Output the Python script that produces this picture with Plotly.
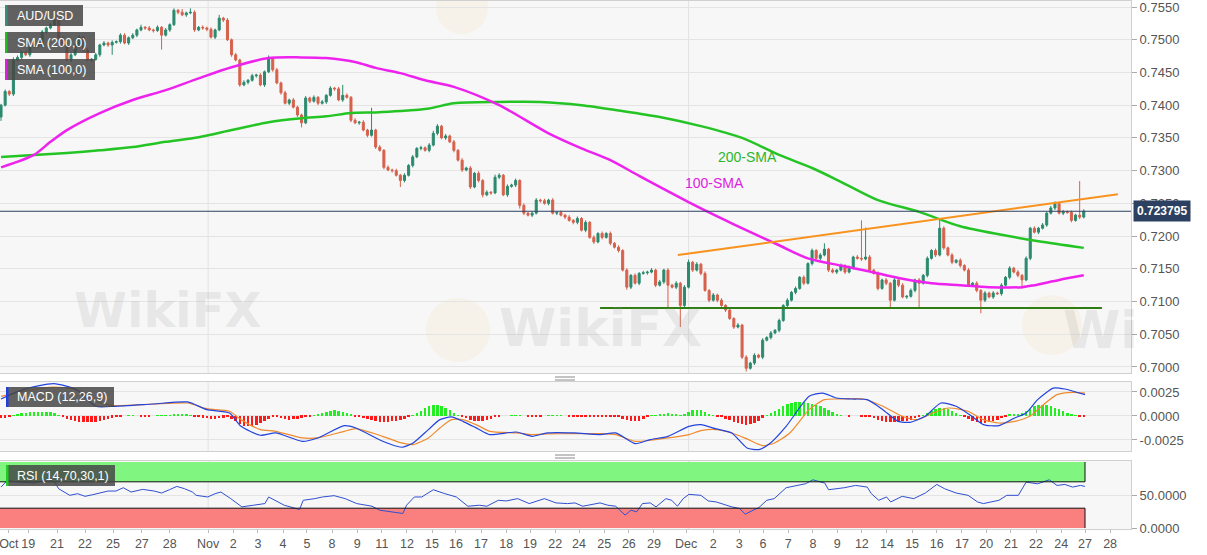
import plotly.graph_objects as go

W, H = 1207, 555
PLOT_W = 1131          # width of the plotting area, right axis sits after it

# ---------------- price data (4h candles) ----------------
first_open = 0.7382
closes = [
    0.7400, 0.7421, 0.7417, 0.7469, 0.7473, 0.7481, 0.7477, 0.7489, 0.7492, 0.7490,
    0.7512, 0.7518, 0.7523, 0.7530, 0.7503, 0.7492, 0.7469, 0.7477, 0.7492, 0.7504,
    0.7484, 0.7469, 0.7470, 0.7477, 0.7492, 0.7495, 0.7492, 0.7496, 0.7497, 0.7507,
    0.7495, 0.7503, 0.7507, 0.7515, 0.7519, 0.7518, 0.7515, 0.7514, 0.7519, 0.7507,
    0.7515, 0.7523, 0.7545, 0.7542, 0.7538, 0.7541, 0.7542, 0.7515, 0.7519, 0.7518,
    0.7516, 0.7504, 0.7515, 0.7533, 0.7530, 0.7500, 0.7477, 0.7469, 0.7431, 0.7435,
    0.7438, 0.7445, 0.7446, 0.7431, 0.7451, 0.7472, 0.7454, 0.7434, 0.7419, 0.7403,
    0.7408, 0.7397, 0.7385, 0.7373, 0.7411, 0.7406, 0.7412, 0.7403, 0.7405, 0.7415,
    0.7426, 0.7425, 0.7408, 0.7415, 0.7412, 0.7377, 0.7373, 0.7374, 0.7362, 0.7354,
    0.7362, 0.7336, 0.7331, 0.7305, 0.7301, 0.7300, 0.7293, 0.7285, 0.7293, 0.7308,
    0.7321, 0.7334, 0.7335, 0.7331, 0.7339, 0.7357, 0.7368, 0.7350, 0.7353, 0.7344,
    0.7331, 0.7316, 0.7301, 0.7304, 0.7275, 0.7296, 0.7285, 0.7263, 0.7267, 0.7266,
    0.7290, 0.7293, 0.7263, 0.7276, 0.7278, 0.7285, 0.7247, 0.7235, 0.7232, 0.7235,
    0.7255, 0.7254, 0.7250, 0.7255, 0.7235, 0.7236, 0.7232, 0.7229, 0.7224, 0.7221,
    0.7227, 0.7209, 0.7221, 0.7198, 0.7191, 0.7204, 0.7198, 0.7204, 0.7189, 0.7183,
    0.7178, 0.7148, 0.7122, 0.7140, 0.7128, 0.7143, 0.7144, 0.7145, 0.7148, 0.7125,
    0.7130, 0.7148, 0.7125, 0.7122, 0.7128, 0.7094, 0.7122, 0.7160, 0.7148, 0.7157,
    0.7143, 0.7117, 0.7102, 0.7110, 0.7102, 0.7094, 0.7087, 0.7074, 0.7061, 0.7064,
    0.7015, 0.6998, 0.7006, 0.7018, 0.7015, 0.7041, 0.7045, 0.7052, 0.7056, 0.7071,
    0.7094, 0.7102, 0.7114, 0.7120, 0.7137, 0.7128, 0.7158, 0.7178, 0.7166, 0.7171,
    0.7180, 0.7148, 0.7145, 0.7148, 0.7155, 0.7145, 0.7152, 0.7168, 0.7166, 0.7165,
    0.7168, 0.7148, 0.7143, 0.7120, 0.7133, 0.7128, 0.7102, 0.7133, 0.7125, 0.7107,
    0.7108, 0.7117, 0.7133, 0.7128, 0.7140, 0.7166, 0.7178, 0.7171, 0.7212, 0.7182,
    0.7171, 0.7160, 0.7163, 0.7155, 0.7148, 0.7125, 0.7128, 0.7117, 0.7102, 0.7113,
    0.7107, 0.7113, 0.7112, 0.7125, 0.7137, 0.7151, 0.7145, 0.7140, 0.7133, 0.7166,
    0.7212, 0.7206, 0.7212, 0.7217, 0.7235, 0.7243, 0.7250, 0.7235, 0.7237, 0.7236,
    0.7224, 0.7232, 0.7229, 0.723795,
]
# wick lengths above / below the body, in pips
up_pips = [
    2, 3, 2, 4, 3, 2, 3, 2, 3, 2,   3, 2, 3, 8, 3, 2, 3, 4, 2, 3,
    2, 3, 2, 3, 2, 3, 2, 3, 2, 3,   3, 2, 3, 2, 4, 2, 3, 2, 3, 2,
    3, 2, 3, 2, 5, 2, 6, 3, 2, 3,   2, 3, 2, 5, 2, 3, 2, 3, 2, 3,
    2, 3, 2, 3, 2, 4, 2, 3, 2, 3,   2, 3, 2, 2, 3, 2, 3, 2, 3, 2,
    3, 2, 3, 16, 3, 2, 3, 2, 3, 2,  34, 2, 3, 2, 3, 2, 3, 2, 3, 2,
    3, 2, 3, 2, 3, 4, 3, 2, 3, 2,   3, 2, 3, 2, 3, 2, 3, 2, 3, 2,
    4, 3, 2, 3, 2, 3, 2, 3, 2, 3,   3, 2, 3, 2, 3, 2, 3, 2, 3, 2,
    3, 2, 3, 2, 3, 2, 3, 2, 3, 2,   3, 2, 3, 2, 3, 2, 3, 2, 3, 2,
    3, 2, 3, 2, 3, 2, 3, 4, 2, 3,   2, 3, 2, 3, 2, 3, 2, 3, 2, 3,
    2, 3, 2, 3, 2, 3, 2, 3, 2, 3,   2, 3, 2, 3, 2, 3, 2, 3, 2, 3,
    9, 2, 3, 2, 3, 2, 3, 2, 3, 58,  45, 3, 2, 3, 2, 3, 2, 3, 2, 3,
    2, 3, 2, 3, 2, 3, 2, 3, 15, 3,  2, 3, 2, 3, 2, 3, 2, 3, 2, 3,
    2, 3, 2, 3, 2, 3, 2, 3, 2, 3,   2, 3, 2, 3, 2, 3, 3, 2, 3, 2,
    3, 2, 52, 3,
]
down_pips = [
    6, 2, 3, 3, 2, 3, 2, 3, 2, 3,   2, 3, 2, 2, 4, 3, 2, 3, 2, 3,
    3, 2, 3, 2, 3, 2, 3, 15, 2, 3,  2, 3, 2, 3, 2, 3, 2, 3, 2, 22,
    2, 3, 2, 3, 2, 3, 2, 3, 2, 3,   3, 2, 3, 2, 3, 2, 3, 2, 3, 2,
    3, 2, 3, 2, 3, 2, 3, 2, 3, 2,   3, 2, 3, 7, 2, 3, 2, 3, 2, 3,
    2, 3, 2, 3, 2, 3, 2, 3, 2, 3,   2, 3, 2, 3, 2, 3, 2, 10, 3, 2,
    3, 2, 3, 2, 3, 2, 3, 2, 3, 2,   3, 2, 3, 2, 3, 2, 3, 4, 2, 3,
    2, 3, 2, 3, 2, 3, 5, 3, 2, 3,   2, 3, 2, 3, 2, 3, 2, 3, 2, 3,
    3, 2, 3, 2, 3, 2, 3, 2, 3, 2,   3, 2, 4, 3, 2, 3, 2, 3, 2, 3,
    2, 3, 34, 2, 3, 33, 3, 2, 3, 2, 3, 2, 3, 2, 3, 2, 3, 2, 3, 2,
    3, 5, 2, 3, 2, 3, 2, 3, 2, 3,   2, 3, 2, 3, 2, 3, 2, 3, 2, 3,
    2, 3, 2, 3, 2, 3, 2, 3, 2, 3,   2, 3, 2, 3, 2, 3, 11, 2, 3, 2,
    3, 2, 3, 37, 2, 3, 2, 3, 2, 3,  2, 3, 2, 3, 2, 3, 2, 3, 20, 3,
    2, 3, 2, 3, 2, 3, 2, 3, 13, 2,  3, 2, 3, 2, 3, 2, 3, 2, 3, 2,
    3, 2, 3, 2,
]
last_price = 0.723795

# moving averages, sampled along the candle index
sma200_x = [0, 8, 16, 24, 32, 40, 48, 56, 65, 73, 79, 85, 91, 97, 104, 110, 121, 131,
            141, 150, 160, 170, 180, 189, 197, 204, 213, 223, 233, 243, 252, 263]
sma200 = [0.7321, 0.7324, 0.7327, 0.7331, 0.7336, 0.7344, 0.7351, 0.7362, 0.7374, 0.7380,
          0.7383, 0.7388, 0.7389, 0.7391, 0.7395, 0.7403, 0.7405, 0.7405, 0.7400, 0.7392,
          0.7382, 0.7368, 0.7350, 0.7324, 0.7304, 0.7283, 0.7255, 0.7237, 0.7215, 0.7202,
          0.7192, 0.7182]
sma100_x = [0, 8, 12, 16, 24, 32, 40, 48, 56, 65, 73, 79, 86, 91, 97, 103, 110, 121, 133,
            141, 148, 155, 167, 175, 181, 189, 196, 204, 211, 218, 226, 233, 240, 248, 251,
            257, 263]
sma100 = [0.7305, 0.7324, 0.7344, 0.7362, 0.7388, 0.7408, 0.7423, 0.7441, 0.7458, 0.7472,
          0.7473, 0.7472, 0.7466, 0.7457, 0.7449, 0.7438, 0.7428, 0.7400, 0.7357, 0.7334,
          0.7316, 0.7292, 0.7252, 0.7227, 0.7209, 0.7186, 0.7166, 0.7155, 0.7146, 0.7136,
          0.7128, 0.7125, 0.7122, 0.7122, 0.7125, 0.7133, 0.7140]

# drawn lines
resist_x = [164.4, 271.3]
resist_y = [0.7171, 0.7264]
support_x = [145.5, 267.4]
support_y = [0.7090, 0.7090]

# ---------------- MACD (12,26,9), values in 1e-4 ----------------
macd_x = [0, 5.3, 12.8, 18.3, 23, 27.6, 37, 45.3, 50, 55.5, 58.3, 63, 66.7, 73.2, 76.9,
          83.4, 86.2, 92.7, 97.3, 100.1, 103.8, 106.6, 109.4, 112.2, 115.9, 118.7, 125.2,
          129, 132.7, 139.2, 145.5, 149.3, 154, 157.7, 162, 167.1, 170, 173.7, 177.5,
          181.2, 184.1, 186.9, 190.7, 196.3, 199.6, 202.9, 206.6, 210.4, 214.2, 217.9,
          220.8, 224.5, 228.3, 232, 235.8, 238.6, 242.4, 246.2, 249, 251.8, 255.6, 258.4,
          263.3]
macd_line = [17.7, 27.4, 33.7, 27.4, 10.1, 10.1, 12.5, 14.6, 6.6, 3.1, -10.8, -20.1, -17.7,
             -26.4, -22.9, -10.1, -12.5, -26.4, -32.6, -28.1, -14.2, -3.8, -1.0, -5.6, -13.5,
             -19.4, -16.7, -21.2, -17.7, -17.7, -19.4, -17.7, -28.8, -24.6, -21.2, -10.8,
             -9.0, -13.5, -17.7, -33.3, -35.0, -28.1, -10.8, 20.5, 23.9, 18.7, 17.7, 17.0,
             6.6, -5.6, -6.6, -0.3, 13.5, 10.1, -0.3, -9.0, -10.1, -2.1, 3.1, 17.0, 29.1,
             28.1, 22.2]
signal_x = [0, 5.3, 12.8, 18.3, 23, 27.6, 37, 45.3, 50, 55.5, 58.3, 63, 66.7, 73.2, 76.9,
            83.4, 86.2, 92.7, 97.3, 100.1, 103.8, 106.6, 109.4, 112.2, 115.9, 118.7, 125.2,
            129, 132.7, 139.2, 145.5, 149.3, 154, 157.7, 162, 167.1, 170, 173.7, 177.5,
            181.2, 185, 187.9, 191.6, 196.3, 200, 203.8, 209.5, 214.2, 218.9, 222.6, 226.4,
            230.2, 234.9, 238.6, 242.4, 246.2, 249.9, 253.7, 256.5, 260.3, 263.3]
signal_line = [20.5, 25.7, 30.2, 27.4, 15.3, 10.8, 12.5, 13.5, 7.6, 4.9, -3.8, -14.2, -16.0,
               -22.9, -22.9, -16.0, -13.2, -21.2, -28.1, -29.8, -22.9, -12.5, -3.8, -3.8,
               -10.1, -16.0, -17.7, -19.4, -18.7, -18.4, -18.4, -19.4, -26.4, -25.3, -22.9,
               -19.4, -15.3, -14.2, -17.7, -23.9, -30.9, -28.1, -17.7, 6.6, 17.0, 17.7, 17.7,
               10.1, -0.3, -3.8, 3.1, 8.3, 4.9, -3.8, -7.3, -5.6, -0.3, 13.5, 22.2, 24.6, 23.9]
macd_hist = [
    -2, -2, -1,
    1, 2, 3, 3.5, 4, 4, 4.5, 4.5, 4.5, 4, 3, 1,
    -1, -3, -4, -5, -6, -6.5, -6.6, -6.5, -6, -5, -4, -3, -2, -1,
    -0.5, 0, 0.5, 0.5, 0, -0.5, -0.5, -0.3, 0, 0.3, 0.5,
    0.5,
    1, 1.5, 2, 2.4, 2, 1,
    -0.5, -1, -2, -2.5, -3, -3, -2.5, -2, -1.5,
    -3, -5, -8, -10, -10.8, -10, -9, -7, -5, -3,
    -1.5,
    -1.5, -2.5, -3.5, -3.8, -3.5, -3, -2, -1,
    -0.3,
    0.5, 1.5, 3, 4.5, 5.5, 5.9, 5.5, 4.5, 3, 1.5,
    -0.5, -1.5, -2.5, -3.5, -4.5, -5.2, -5.8, -6.2, -6, -5.5, -4.8, -4, -3, -1.5,
    1, 3, 5.5, 8, 10, 11, 11, 10, 8, 6, 3.5, 1,
    -1, -2.5, -4, -5, -5.6, -5.5, -4.5, -3, -1.5,
    -0.5, 0, 0,
    0.3, 0.4, 0.4, 0, -0.5, -0.8, -0.8, -0.5, 0, 0.3,
    0.3, 0.4, 0.3, 0, -0.2, -0.3, -0.3, -0.3, -0.3, -0.3, -0.3, -0.3,
    -0.3, -0.3, -0.5, -0.8,
    -1, -3, -4.5, -5.5, -5.6, -5, -3.5, -1.5,
    0.5, 1, 1.5, 2, 3, 2.5, 1.5,
    1, 2.5, 4.5, 6, 6.6, 6, 4.5, 2.5, 1,
    -0.5, -1.5, -3, -4.5, -6, -7.5, -8.5, -9, -8.5, -7, -5, -2,
    1, 3, 5, 7.5, 10, 12, 13.5, 14.5, 14.6, 14.5, 14, 13, 11.5, 10, 8, 6, 4, 2, 0.5,
    0, -0.3, 0, 0, -0.3, -0.5,
    -1, -2.5, -4, -5.5, -6.2, -6.6, -6.4, -6, -5.5, -5, -4, -2.5, -1,
    1, 3, 5.5, 7.5, 8.3, 8, 7, 5, 3, 1,
    -1, -3, -5, -6.5, -7.3, -7, -6.5, -5.5, -4, -2.5, -1,
    1.5, 2, 2.5, 3.5, 5, 7.5, 10, 11.5, 11.5, 11, 10, 8.5, 7, 5, 3, 1.5, 0.5,
    -1.5, -1.5,
]

# ---------------- RSI (14) ----------------
rsi_x = [0, 1.5, 4, 8, 11.5, 13, 14, 16.7, 18.6, 20.4, 22.3, 24.2, 26, 27.9, 29.7, 31.6,
         34.4, 37.2, 39, 40.9, 42.7, 44.6, 46.5, 47.4, 50.2, 52, 53.4, 55.8, 58.5, 61.3,
         64.1, 65, 68.8, 72.5, 73.4, 76.2, 78.1, 80.9, 83.6, 86.4, 90.1, 92, 94.8, 97.6,
         98.5, 100.4, 102.2, 105, 107.8, 110.6, 113.4, 116.2, 118, 120.8, 122.7, 125.5,
         128.3, 132, 134.8, 137.6, 139.4, 141.3, 145.5, 147.4, 149.3, 151.6, 153, 154.4,
         155.8, 157.7, 159.1, 161.5, 162.9, 164.3, 165.7, 167.1, 170, 171.8, 173.7, 177.5,
         179.4, 180.8, 182.7, 184.1, 186, 187.8, 190.7, 193.5, 195.4, 197.2, 200.1, 201,
         204.8, 207.6, 210.4, 211.4, 213.2, 215.1, 216.1, 218.9, 221.7, 224.5, 227.3,
         229.2, 232, 234.9, 237.2, 238.6, 242.4, 244.3, 247.1, 249, 251.8, 254.6, 256.5,
         258.4, 260.3, 262.2, 263.3]
rsi_vals = [62, 72, 70, 68, 74, 69.5, 59.5, 49.5, 52, 48, 50.5, 53, 56, 56, 61, 54.5,
            58.5, 56, 53, 58, 63, 59.5, 54.5, 49.5, 47, 52, 54.5, 44.5, 32, 34.5,
            37, 47, 34.5, 28, 42, 44.5, 47, 49, 44.5, 37, 33, 27, 24.5, 22,
            34.5, 47, 47, 58, 52, 47, 33, 34.5, 33, 42, 41, 44.5,
            37, 44.5, 38, 37, 38, 33, 38, 34.5, 33, 19.5, 27, 24.5,
            37, 38, 32, 44.5, 42, 33, 44.5, 51, 49.5, 41, 39.5, 32,
            29.5, 21, 27, 31, 42, 44.5, 61, 64.5, 67, 73, 68, 58,
            61, 64.5, 62, 52, 42, 47, 39.5, 48, 44.5, 53, 66,
            59.5, 53, 49.5, 39.5, 37, 42, 49.5, 49.5, 69.5, 67, 73, 64.5,
            66, 62, 64.5, 63]

# ---------------- axis labels ----------------
date_ticks = [1.9, 6.6, 13.6, 20.4, 27.2, 34.2, 41.0, 50.3, 56.4, 62.4, 68.5, 74.3, 80.4,
              86.5, 92.5, 98.6, 104.7, 110.5, 116.6, 122.7, 128.5, 134.6, 140.4, 146.5,
              152.5, 158.6, 166.4, 173.0, 179.3, 185.1, 191.2, 197.2, 203.1, 209.1, 215.2,
              221.3, 227.3, 233.4, 239.3, 245.3, 251.4, 257.5, 263.3, 269.4]
date_labels = ['Oct', '19', '21', '22', '25', '27', '28', 'Nov', '2', '3', '4', '5', '8',
               '9', '11', '12', '15', '16', '17', '18', '19', '22', '24', '25', '26', '29',
               'Dec', '2', '3', '6', '7', '8', '9', '12', '14', '15', '16', '17', '20',
               '21', '22', '24', '27', '28']
month_lines = [50.3, 167.0]
price_ticks = [0.7000 + 0.005 * k for k in range(12)]

# ---------------- build ----------------
GREEN_C = '#2b8a6e'
RED_C = '#d6614c'
FONT = 'Arial, Liberation Sans, sans-serif'

idx = list(range(len(closes)))
opens = [first_open] + closes[:-1]
highs = [max(o, c) + u * 1e-4 for o, c, u in zip(opens, closes, up_pips)]
lows = [min(o, c) - d * 1e-4 for o, c, d in zip(opens, closes, down_pips)]


def px(xp):
    return xp / PLOT_W


def py(yp):
    return 1 - yp / H


fig = go.Figure()

fig.add_trace(go.Candlestick(
    x=idx, open=opens, high=highs, low=lows, close=closes,
    increasing=dict(line=dict(color=GREEN_C, width=1), fillcolor=GREEN_C),
    decreasing=dict(line=dict(color=RED_C, width=1), fillcolor=RED_C),
    whiskerwidth=0, showlegend=False, hoverinfo='skip', xaxis='x', yaxis='y'))

fig.add_trace(go.Scatter(x=sma200_x, y=sma200, mode='lines', xaxis='x', yaxis='y',
                         line=dict(color='#25c425', width=2.5, shape='spline', smoothing=0.8),
                         showlegend=False, hoverinfo='skip'))
fig.add_trace(go.Scatter(x=sma100_x, y=sma100, mode='lines', xaxis='x', yaxis='y',
                         line=dict(color='#ee22ee', width=2.5, shape='spline', smoothing=0.8),
                         showlegend=False, hoverinfo='skip'))
fig.add_trace(go.Scatter(x=resist_x, y=resist_y, mode='lines', xaxis='x', yaxis='y',
                         line=dict(color='#f7931e', width=2), showlegend=False, hoverinfo='skip'))
fig.add_trace(go.Scatter(x=support_x, y=support_y, mode='lines', xaxis='x', yaxis='y',
                         line=dict(color='#2e7d12', width=2), showlegend=False, hoverinfo='skip'))

# MACD panel
hist_vals = [v * 1e-4 for v in macd_hist]
fig.add_trace(go.Bar(x=idx, y=hist_vals, width=0.6, xaxis='x2', yaxis='y2',
                     marker=dict(color=['#22ee22' if v >= 0 else '#ff1a1a' for v in hist_vals],
                                 line=dict(width=0)),
                     showlegend=False, hoverinfo='skip'))
fig.add_trace(go.Scatter(x=signal_x, y=[v * 1e-4 for v in signal_line], mode='lines',
                         xaxis='x2', yaxis='y2',
                         line=dict(color='#f08a2c', width=1.2, shape='spline', smoothing=0.6),
                         showlegend=False, hoverinfo='skip'))
fig.add_trace(go.Scatter(x=macd_x, y=[v * 1e-4 for v in macd_line], mode='lines',
                         xaxis='x2', yaxis='y2',
                         line=dict(color='#2244dd', width=1.2, shape='spline', smoothing=0.6),
                         showlegend=False, hoverinfo='skip'))

# RSI panel
fig.add_trace(go.Scatter(x=rsi_x, y=rsi_vals, mode='lines', xaxis='x3', yaxis='y3',
                         line=dict(color='#2f4fd0', width=1), showlegend=False, hoverinfo='skip'))

shapes = []
x_end = idx[-1] + 0.3
x_start = -0.3
# RSI zones
shapes.append(dict(type='rect', xref='x3', yref='y3', x0=x_start, x1=x_end, y0=70, y1=100,
                   fillcolor='#80f580', line=dict(width=0), layer='below'))
shapes.append(dict(type='rect', xref='x3', yref='y3', x0=x_start, x1=x_end, y0=0, y1=30,
                   fillcolor='#fa8080', line=dict(width=0), layer='below'))
for yv in (70, 30):
    shapes.append(dict(type='line', xref='x3', yref='y3', x0=x_start, x1=x_end, y0=yv, y1=yv,
                       line=dict(color='#111', width=1)))
shapes.append(dict(type='line', xref='x3', yref='y3', x0=x_end, x1=x_end, y0=70, y1=100,
                   line=dict(color='#111', width=1)))
shapes.append(dict(type='line', xref='x3', yref='y3', x0=x_end, x1=x_end, y0=0, y1=30,
                   line=dict(color='#111', width=1)))
# month separators
for mx in month_lines:
    for yr in ('y domain', 'y2 domain', 'y3 domain'):
        shapes.append(dict(type='line', xref='x', yref=yr, x0=mx, x1=mx, y0=0, y1=1,
                           line=dict(color='#e2e2e2', width=1), layer='below'))
# last price line
shapes.append(dict(type='line', xref='x domain', yref='y', x0=0, x1=1,
                   y0=last_price, y1=last_price, line=dict(color='#2d4263', width=1)))
# legend boxes
boxes = [
    (5, 83, 5, 26, '#3d8b7d'),
    (5, 95, 32, 53, '#22bb22'),
    (5, 95, 59, 80, '#dd22dd'),
    (6, 114, 387, 407, '#2040e0'),
    (6, 115, 465, 486, '#22cc22'),
]
for x0, x1, y0, y1, bar in boxes:
    shapes.append(dict(type='rect', xref='paper', yref='paper', x0=px(x0), x1=px(x1),
                       y0=py(y1), y1=py(y0), fillcolor='rgba(70,70,70,0.85)', line=dict(width=0)))
    shapes.append(dict(type='rect', xref='paper', yref='paper', x0=px(x0), x1=px(x0 + 2.5),
                       y0=py(y1), y1=py(y0), fillcolor=bar, line=dict(width=0)))
# panel drag handles
for hy in (377, 380, 455, 458):
    shapes.append(dict(type='line', xref='paper', yref='paper', x0=px(555), x1=px(575),
                       y0=py(hy), y1=py(hy), line=dict(color='#888', width=1)))
# faint watermark logos
for cx, cy, r in ((458, 330, 32), (1052, 325, 30), (462, 8, 26)):
    shapes.append(dict(type='circle', xref='paper', yref='paper', x0=px(cx - r), x1=px(cx + r),
                       y0=py(cy + r), y1=py(cy - r), fillcolor='rgba(245,205,130,0.12)',
                       line=dict(width=0), layer='below'))

annotations = []
for text, yc in (('AUD/USD', 15.5), ('SMA (200,0)', 42.5), ('SMA (100,0)', 69.5),
                 ('MACD (12,26,9)', 397), ('RSI (14,70,30,1)', 475.5)):
    annotations.append(dict(text=text, xref='paper', yref='paper', x=px(15), y=py(yc),
                            xanchor='left', yanchor='middle', showarrow=False,
                            font=dict(family=FONT, size=12.5, color='white')))
for text, xw, yw, size in (('WikiFX', 72, 310, 48), ('WikiFX', 600, 328, 52),
                           ('Wi', 1140, 330, 52)):
    annotations.append(dict(text='<b>' + text + '</b>', xref='paper', yref='paper',
                            x=px(xw), y=py(yw), showarrow=False,
                            font=dict(family='DejaVu Sans', size=size,
                                      color='rgba(150,150,150,0.16)')))
annotations.append(dict(text='200-SMA', xref='x', yref='y', x=181.4, y=0.7321,
                        showarrow=False, font=dict(family=FONT, size=14, color='#2cb52c')))
annotations.append(dict(text='100-SMA', xref='x', yref='y', x=173.2, y=0.7281,
                        showarrow=False, font=dict(family=FONT, size=14, color='#e020e0')))
annotations.append(dict(text='<b>0.723795</b>', xref='paper', yref='y', x=px(1133),
                        y=last_price, xanchor='left', yanchor='middle', showarrow=False,
                        bgcolor='#2c4161', borderpad=3,
                        font=dict(family=FONT, size=12, color='white')))

axis_common = dict(showline=True, mirror=True, linecolor='#d0d0d0', linewidth=1,
                   automargin=False, ticklabeloverflow='allow')
x_range = [-0.25, (PLOT_W - 1) / 4.117]

fig.update_layout(
    width=W, height=H,
    margin=dict(l=0, r=W - PLOT_W, t=0, b=0),
    paper_bgcolor='white', plot_bgcolor='#f7f7f7',
    showlegend=False, barmode='overlay', bargap=0,
    font=dict(family=FONT, size=13, color='#555'),
    xaxis=dict(domain=[0, 1], anchor='y', range=x_range, showticklabels=False,
               showgrid=False, zeroline=False, rangeslider=dict(visible=False), **axis_common),
    xaxis2=dict(domain=[0, 1], anchor='y2', range=x_range, matches='x', showticklabels=False,
                showgrid=False, zeroline=False, **axis_common),
    xaxis3=dict(domain=[0, 1], anchor='y3', range=x_range, matches='x', tickmode='array',
                tickvals=date_ticks, ticktext=date_labels, ticks='outside', ticklen=3,
                tickangle=0, tickcolor='#bbb', showgrid=False, zeroline=False,
                tickfont=dict(size=12.5, color='#555'), **axis_common),
    yaxis=dict(domain=[py(373), py(1)], side='right', range=[0.69908, 0.75592],
               tickmode='array', tickvals=price_ticks,
               ticktext=['%.4f' % v for v in price_ticks],
               ticks='outside', ticklen=5, tickcolor='#aaa', showgrid=True,
               gridcolor='#e4e4e4', zeroline=False, tickfont=dict(size=13, color='#555'),
               **axis_common),
    yaxis2=dict(domain=[py(451), py(382)], side='right', range=[-0.00365, 0.00354],
                tickmode='array', tickvals=[-0.0025, 0, 0.0025],
                ticktext=['-0.0025', '0.0000', '0.0025'],
                ticks='outside', ticklen=5, tickcolor='#aaa', showgrid=True,
                gridcolor='#e4e4e4', zeroline=False, tickfont=dict(size=13, color='#555'),
                **axis_common),
    yaxis3=dict(domain=[py(529), py(461)], side='right', range=[-1.5, 101.5],
                tickmode='array', tickvals=[0, 50], ticktext=['0.0000', '50.0000'],
                ticks='outside', ticklen=5, tickcolor='#aaa', showgrid=True,
                gridcolor='#e4e4e4', zeroline=False, tickfont=dict(size=13, color='#555'),
                **axis_common),
    shapes=shapes,
    annotations=annotations,
)

# the page body has a default margin; drop it so the figure fills the window exactly
fig.write_html("out.html", config={'displayModeBar': False},
               post_script="document.body.style.margin='0';document.body.style.overflow='hidden';")
